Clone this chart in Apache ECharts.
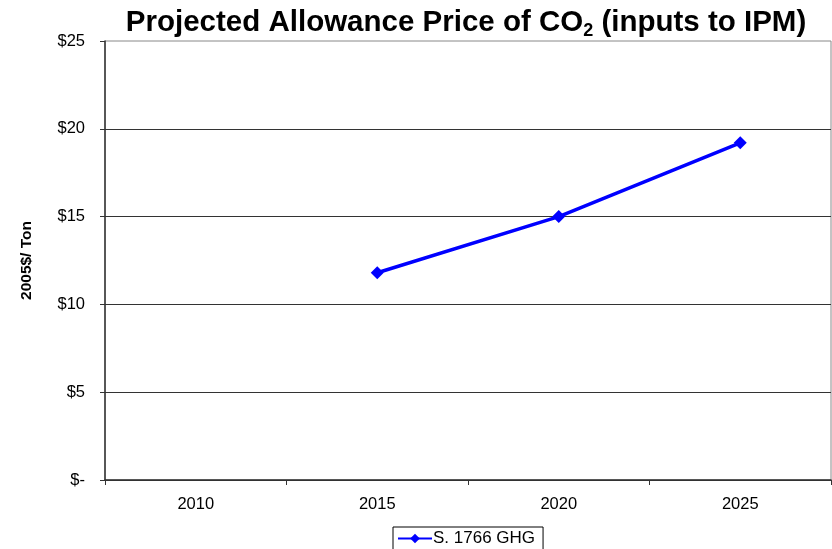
<!DOCTYPE html>
<html>
<head>
<meta charset="utf-8">
<script src="https://cdn.jsdelivr.net/npm/echarts@6/dist/echarts.min.js"></script>
<style>
  html, body { margin: 0; padding: 0; background: #fff; }
  #chart { width: 832px; height: 549px; }
</style>
</head>
<body>
<div id="chart"></div>
<script>
// data
var years = ["2010", "2015", "2020", "2025"];
var priceS1766 = [null, 11.8, 15.0, 19.2];
var seriesName = "S. 1766 GHG";

var chart = echarts.init(document.getElementById("chart"));

var option = {
  backgroundColor: "#fff",
  animation: false,
  title: {
    text: "Projected Allowance Price of CO{sub|2} (inputs to IPM)",
    left: 461,
    textAlign: "center",
    top: 1,
    textStyle: {
      fontFamily: "Liberation Sans",
      fontSize: 29.5,
      fontWeight: "bold",
      color: "#000",
      rich: {
        sub: {
          fontFamily: "Liberation Sans",
          fontSize: 18,
          fontWeight: "bold",
          color: "#000",
          padding: [16, 0, 0, 0]
        }
      }
    }
  },
  grid: {
    left: 105,
    right: 1,
    top: 41,
    bottom: 69,
    show: true,
    borderColor: "#888",
    borderWidth: 1
  },
  legend: {
    data: [seriesName],
    left: 393,
    top: 527,
    padding: [3, 8, 6, 4],
    itemWidth: 34,
    itemHeight: 12,
    borderColor: "#000",
    borderWidth: 1,
    textStyle: {
      fontFamily: "Liberation Sans",
      fontSize: 17,
      color: "#000",
      padding: [0, 0, 0, -4]
    }
  },
  xAxis: {
    type: "category",
    data: years,
    boundaryGap: true,
    axisLine: { lineStyle: { color: "#333", width: 1.5 } },
    axisTick: { show: true, length: 5, inside: false, lineStyle: { color: "#333" } },
    axisLabel: {
      margin: 16,
      fontFamily: "Liberation Sans",
      fontSize: 16.5,
      color: "#000"
    },
    splitLine: { show: false }
  },
  yAxis: {
    type: "value",
    min: 0,
    max: 25,
    interval: 5,
    name: "2005$/ Ton",
    nameLocation: "middle",
    nameGap: 70,
    nameTextStyle: {
      fontFamily: "Liberation Sans",
      fontSize: 15.5,
      fontWeight: "bold",
      color: "#000"
    },
    axisLine: { show: true, lineStyle: { color: "#333", width: 1.5 } },
    axisTick: { show: true, length: 5, inside: false, lineStyle: { color: "#333" } },
    axisLabel: {
      margin: 20,
      fontFamily: "Liberation Sans",
      fontSize: 16.5,
      color: "#000",
      formatter: function (v) { return v === 0 ? "$-" : "$" + v; }
    },
    splitLine: {
      show: true,
      showMaxLine: false,
      lineStyle: { color: "#333", width: 1 }
    }
  },
  series: [
    {
      name: seriesName,
      type: "line",
      data: priceS1766,
      connectNulls: false,
      symbol: "diamond",
      symbolSize: 13,
      color: "#0000ff",
      lineStyle: { color: "#0000ff", width: 3.5 },
      itemStyle: { color: "#0000ff" }
    }
  ]
};

chart.setOption(option);
</script>
</body>
</html>
